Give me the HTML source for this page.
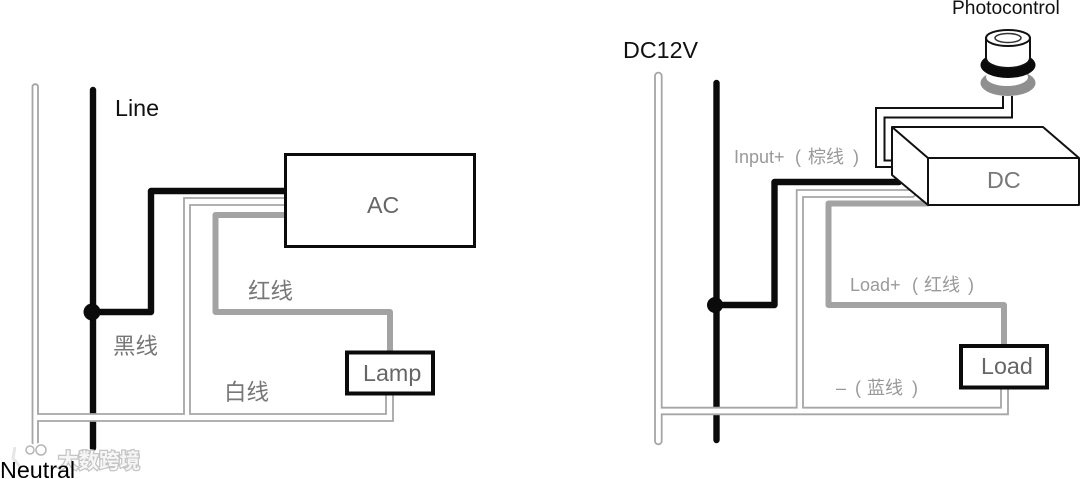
<!DOCTYPE html>
<html><head><meta charset="utf-8"><style>
html,body{margin:0;padding:0;background:#fff}
svg{display:block}
text{font-family:"Liberation Sans","Noto Sans CJK SC",sans-serif}
.k{fill:#111;font-size:23.300px}
.g{fill:#666;font-size:23.300px}
.c{fill:#777;font-size:22.500px}
.l{fill:#999;font-size:18px}
.w{fill:none;stroke-linejoin:round;stroke-linecap:round}
</style></head><body>
<svg width="1080" height="479" viewBox="0 0 1080 479" xmlns="http://www.w3.org/2000/svg">
<rect width="1080" height="479" fill="#fff"/>
<!-- Left -->
<path class="w" d="M93 90V448M93 312H151V191H286" stroke="#0b0b0b" stroke-width="6.400"/>
<circle cx="92" cy="312" r="8.500" fill="#0b0b0b"/>
<path d="M32.500 444V86A3 3 0 0 1 38 86V414H184V198H286V205H190V414H386V394H393V421H38V444A2.750 2.750 0 0 1 32.500 444Z" fill="#fff" stroke="#a6a6a6" stroke-width="1.800"/>
<path class="w" d="M286 215H215.500V312H390V352" stroke="#a3a3a3" stroke-width="6"/>
<rect x="285.500" y="154.500" width="189" height="92" fill="#fff" stroke="#0b0b0b" stroke-width="3"/>
<rect x="347" y="352.500" width="86" height="41" fill="#fff" stroke="#0b0b0b" stroke-width="4"/>
<text x="115" y="116" class="k">Line</text>
<text x="367" y="213" class="g">AC</text>
<text x="363" y="381" class="g">Lamp</text>
<text x="248" y="299" class="c">红线</text>
<text x="113" y="354" class="c">黑线</text>
<text x="224" y="400" class="c">白线</text>
<!-- Right -->
<path class="w" d="M716.500 83V440M716 305H774.500V182H899" stroke="#0b0b0b" stroke-width="6.400"/>
<circle cx="715" cy="305" r="8" fill="#0b0b0b"/>
<path d="M655 441V76A3.300 3.300 0 0 1 661.700 76V407.700H796.700V190H912A3.500 3.500 0 0 1 912 197H803V407.700H1001V388H1008V414.300H661.700V441A3.300 3.300 0 0 1 655 441Z" fill="#fff" stroke="#a6a6a6" stroke-width="1.800"/>
<path class="w" d="M928 203.500H828.500V305H1004V346" stroke="#a3a3a3" stroke-width="6"/>
<rect x="961" y="346" width="86" height="41.500" fill="#fff" stroke="#0b0b0b" stroke-width="4"/>
<!-- Photocontrol wires -->
<path d="M1003 96V108H876V167H893M1012 96V117.500H884.500V160.500H893" fill="none" stroke="#111" stroke-width="2"/>
<!-- DC box -->
<path d="M892 127H1043L1079 158V205H928L892 175Z" fill="#fff" stroke="#111" stroke-width="2" stroke-linejoin="round"/>
<path d="M892 127L928 158H1079M928 158V205" fill="none" stroke="#111" stroke-width="2"/>
<!-- Photocontrol icon -->
<ellipse cx="1008" cy="83" rx="27.500" ry="13" fill="#8f8f8f"/>
<ellipse cx="1007" cy="77" rx="21" ry="9" fill="#fff"/>
<ellipse cx="1008" cy="65" rx="27.500" ry="13" fill="#0b0b0b"/>
<path d="M986 38V58A22 10 0 0 0 1030 58V38Z" fill="#fff" stroke="#111" stroke-width="2"/>
<ellipse cx="1008" cy="38" rx="22" ry="8" fill="#fff" stroke="#111" stroke-width="2"/>
<ellipse cx="1008" cy="38" rx="13" ry="4.500" fill="#fff" stroke="#333" stroke-width="1.500"/>
<text x="952" y="14" fill="#111" style="font-size:19.200px">Photocontrol</text>
<text x="623" y="58" class="k">DC12V</text>
<text x="987" y="188" class="c" style="font-size:23.300px">DC</text>
<text x="981" y="374" class="g">Load</text>
<text y="163" class="l"><tspan x="734">Input+</tspan><tspan x="795">(</tspan><tspan x="808">棕线</tspan><tspan x="853">)</tspan></text>
<text y="291" class="l"><tspan x="850">Load+</tspan><tspan x="912">(</tspan><tspan x="924">红线</tspan><tspan x="968">)</tspan></text>
<text y="394" class="l"><tspan x="836">–</tspan><tspan x="855">(</tspan><tspan x="867">蓝线</tspan><tspan x="912">)</tspan></text>
<!-- Watermark -->
<g fill="none" stroke="#fff" stroke-width="5">
<circle cx="30" cy="450" r="4"/><circle cx="41" cy="450" r="5"/><path d="M15 447L13 458L20 467"/>
</g>
<g fill="#fff" stroke="#b5b5b5" stroke-width="1.500">
<circle cx="30" cy="450" r="4"/><circle cx="41" cy="450" r="5"/>
</g>
<path d="M15 447L13 458L20 467" fill="none" stroke="#e6e6e6" stroke-width="3"/>
<text x="58" y="468" style="font-size:20.500px;paint-order:stroke;stroke:#c4c4c4;stroke-width:2.500px;font-weight:bold" fill="#f6f6f6">大数跨境</text>
<text x="0" y="478" class="k" style="fill:#000">Neutral</text>
</svg>
</body></html>
